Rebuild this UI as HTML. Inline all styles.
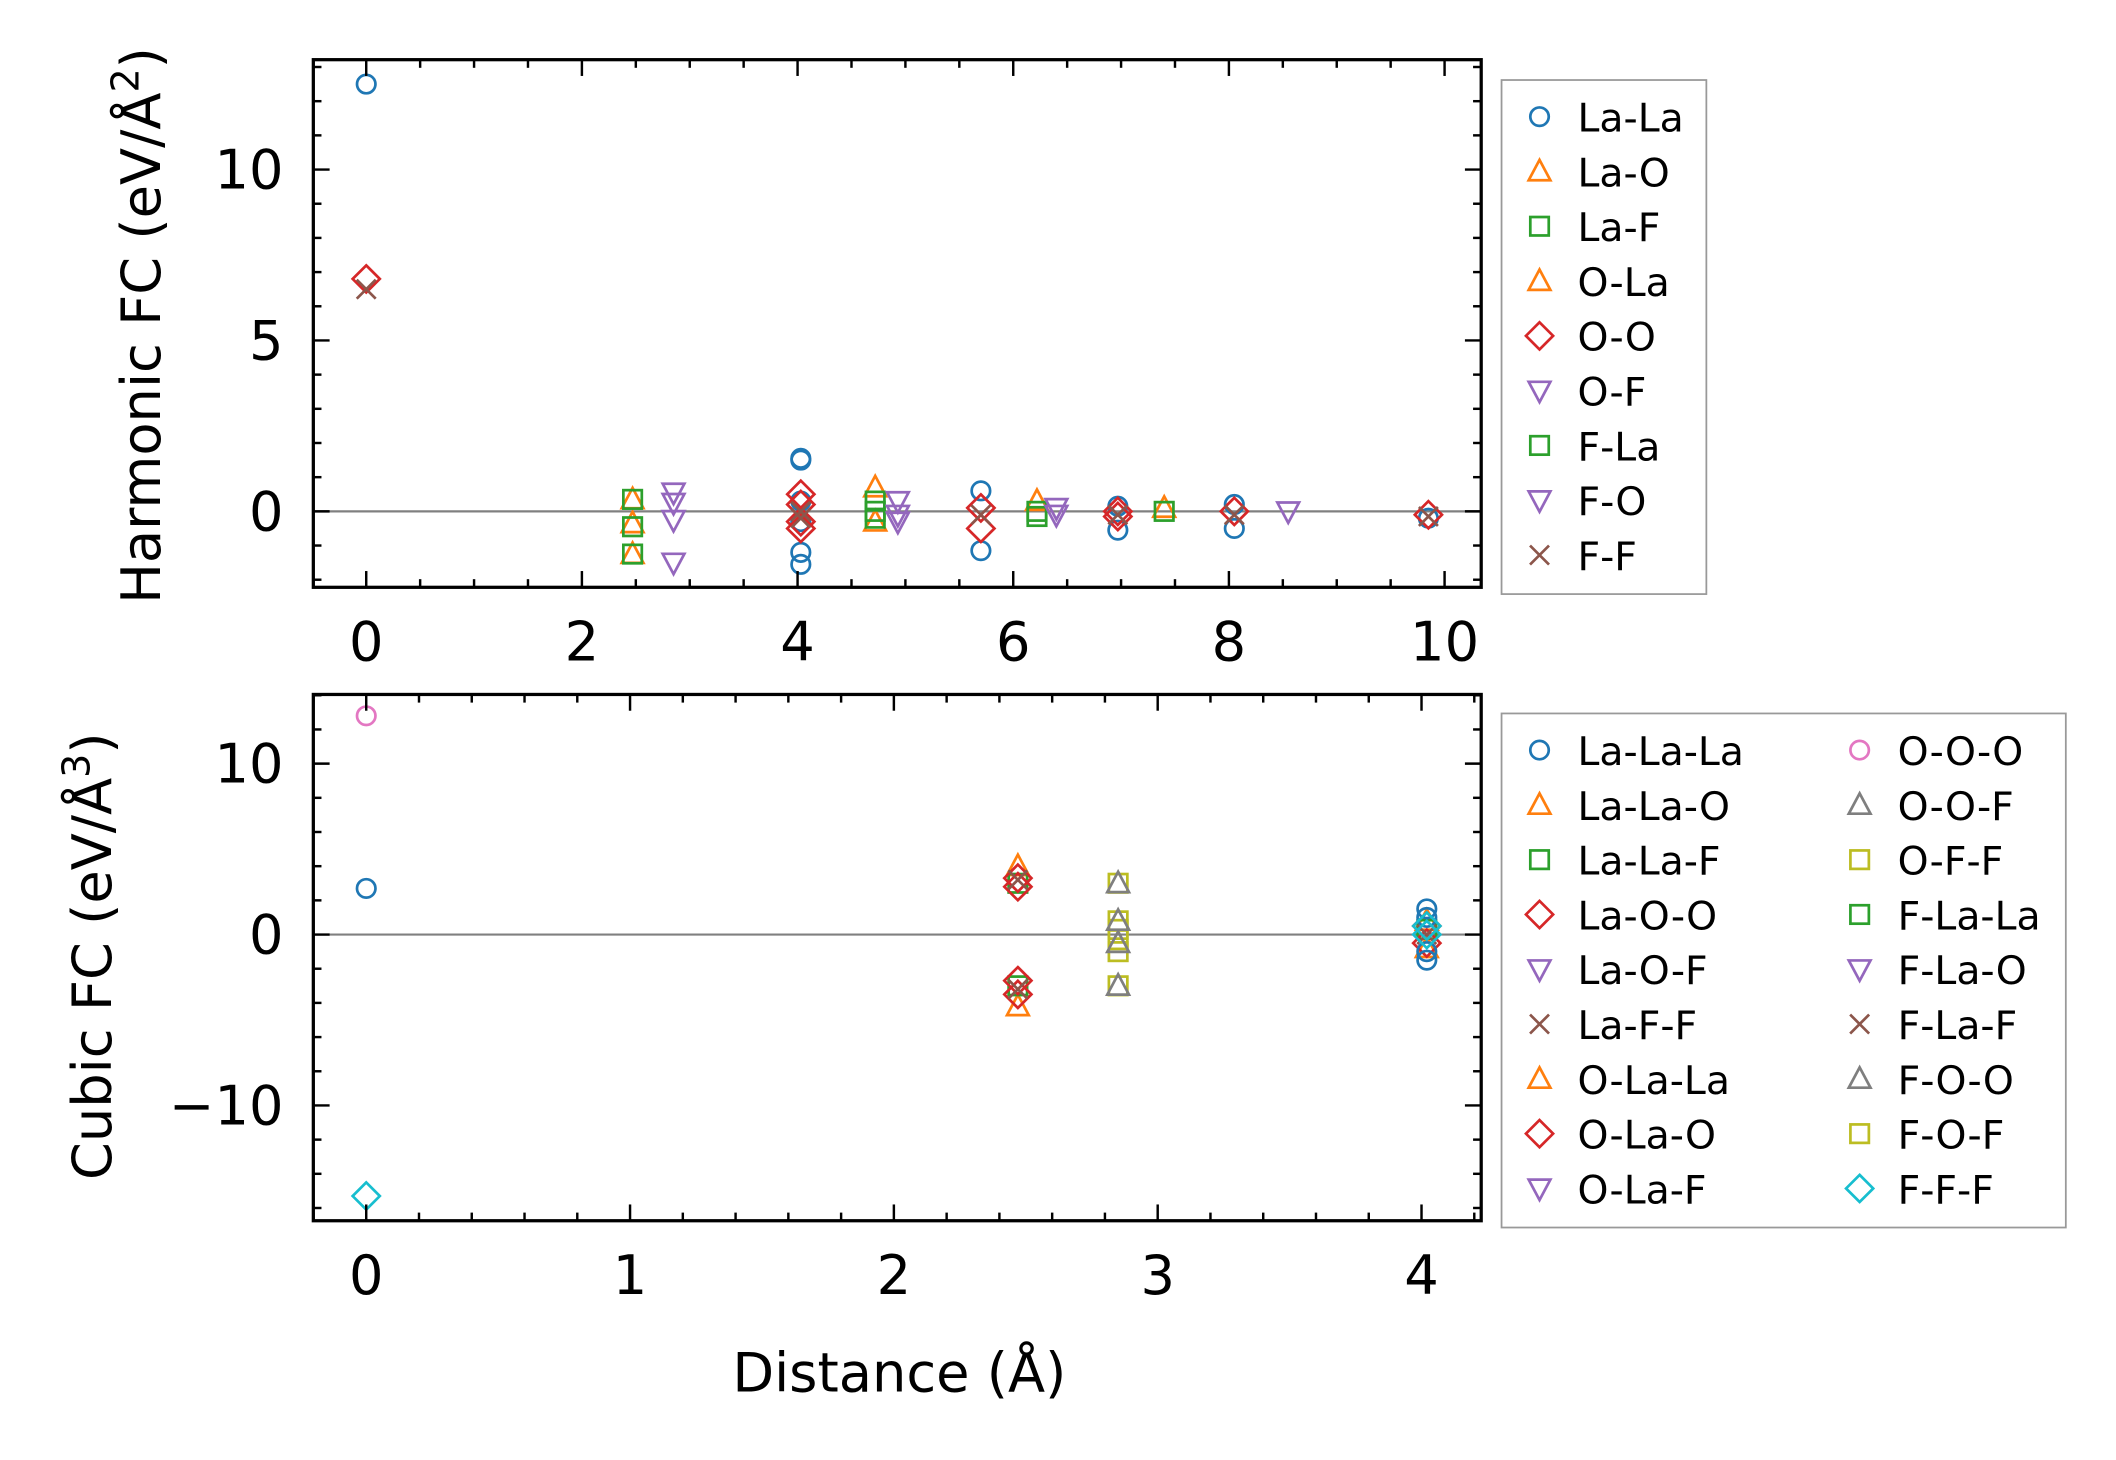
<!DOCTYPE html>
<html><head><meta charset="utf-8"><style>
html,body{margin:0;padding:0;background:#fff}
svg{display:block}
text{font-family:"DejaVu Sans","Liberation Sans",sans-serif;fill:#000}
</style></head><body>
<svg id="fig" width="2116" height="1460" viewBox="0 0 1560 1076.4" preserveAspectRatio="none" xmlns="http://www.w3.org/2000/svg"></svg>
<script>
// ---- Harmonic (top) data ----
const hLaLaX=[0,4.03,4.03,4.03,4.03,4.03,4.03,5.7,5.7,6.97,6.97,8.05,8.05,9.85];
const hLaLaY=[12.5,1.5,1.55,-1.2,-1.55,0.3,-0.3,0.6,-1.15,0.15,-0.55,0.2,-0.5,-0.2];
const hLaOX=[2.47,2.47,2.47,4.72,4.72,6.22,7.4];
const hLaOY=[0.35,-0.35,-1.25,0.7,-0.3,0.3,0.1];
const hLaFX=[2.47,2.47,2.47,4.72,4.72,4.72,6.22,6.22,7.4];
const hLaFY=[0.35,-0.45,-1.25,0.3,0,-0.2,0,-0.15,0];
const hOOX=[0,4.03,4.03,4.03,4.03,5.7,5.7,6.97,6.97,8.05,9.85];
const hOOY=[6.8,0.5,0.2,-0.3,-0.5,0.1,-0.5,0,-0.15,0,-0.1];
const hOFX=[2.85,2.85,2.85,2.85,4.93,4.93,4.93,6.4,6.4,8.55];
const hOFY=[0.55,0.25,-0.25,-1.5,0.3,-0.1,-0.3,0.1,-0.1,0];
const hFFX=[0,4.03,4.03,5.7,6.97,8.05,9.85];
const hFFY=[6.5,0,-0.2,-0.1,-0.1,-0.1,-0.15];
// ---- Cubic (bottom) data ----
const cLLLX=[0,4.02,4.02,4.02,4.02];
const cLLLY=[2.7,1.5,-1.5,1.0,-1.0];
const cOOOX=[0]; const cOOOY=[12.8];
const cFFFX=[0,4.02,4.02]; const cFFFY=[-15.3,0,0.5];
const cTriX=[2.47,2.47,4.02,4.02]; const cTriY=[4.0,-4.2,0.8,-0.8];
const cSqX=[2.47,2.47,4.02]; const cSqY=[3.0,-3.0,0.3];
const cDiaX=[2.47,2.47,2.47,2.47,4.02,4.02]; const cDiaY=[3.3,2.8,-2.7,-3.5,0.5,-0.5];
const cXX=[2.47,2.47,4.02]; const cXY=[3.2,-3.2,0];
const cOFFX=[2.85,2.85,2.85,2.85,2.85,2.85]; const cOFFY=[3.0,0.8,0.3,-0.3,-1.0,-3.0];
const cOOFX=[2.85,2.85,2.85,2.85]; const cOOFY=[3.0,-3.0,0.8,-0.5];
const hXTicks=[0,2,4,6,8,10]; const hYTicks=[0,5,10];
const cXTicks=[0,1,2,3,4]; const cYTicks=[-10,0,10];
const hLegend=["La-La","La-O","La-F","O-La","O-O","O-F","F-La","F-O","F-F"];
const cLegend1=["La-La-La","La-La-O","La-La-F","La-O-O","La-O-F","La-F-F","O-La-La","O-La-O","O-La-F"];
const cLegend2=["O-O-O","O-O-F","O-F-F","F-La-La","F-La-O","F-La-F","F-O-O","F-O-F","F-F-F"];

const C={blue:"#1f77b4",orange:"#ff7f0e",green:"#2ca02c",red:"#d62728",purple:"#9467bd",brown:"#8c564b",pink:"#e377c2",gray:"#7f7f7f",olive:"#bcbd22",cyan:"#17becf"};
const svg=document.getElementById('fig');
const NS="http://www.w3.org/2000/svg";
function mk(tag,attrs,parent){const e=document.createElementNS(NS,tag);for(const k in attrs)e.setAttribute(k,attrs[k]);(parent||svg).appendChild(e);return e;}

function marker(g,shape,cx,cy,col){
  let e;const sw=2.0;
  if(shape==='o'){e=mk('circle',{cx:cx,cy:cy,r:6.8,fill:'none',stroke:col,'stroke-width':sw},g);}
  else if(shape==='^'){e=mk('polygon',{points:`${cx},${cy-8.5} ${cx-8},${cy+6.5} ${cx+8},${cy+6.5}`,fill:'none',stroke:col,'stroke-width':sw},g);}
  else if(shape==='v'){e=mk('polygon',{points:`${cx},${cy+8.5} ${cx-8},${cy-6.5} ${cx+8},${cy-6.5}`,fill:'none',stroke:col,'stroke-width':sw},g);}
  else if(shape==='s'){e=mk('rect',{x:cx-6.8,y:cy-6.8,width:13.6,height:13.6,fill:'none',stroke:col,'stroke-width':sw},g);}
  else if(shape==='D'){e=mk('polygon',{points:`${cx},${cy-10} ${cx+10},${cy} ${cx},${cy+10} ${cx-10},${cy}`,fill:'none',stroke:col,'stroke-width':sw},g);}
  else {e=mk('path',{d:`M${cx-7},${cy-7}L${cx+7},${cy+7}M${cx-7},${cy+7}L${cx+7},${cy-7}`,stroke:col,'stroke-width':sw,fill:'none'},g);}
  return e;
}

function axes(cfg){
  const {L,R,T,B,x0,x1,y0,y1}=cfg;
  const sx=v=>L+(v-x0)/(x1-x0)*(R-L);
  const sy=v=>B-(v-y0)/(y1-y0)*(B-T);
  const g=mk('g',{});
  
  
  const zl=mk('line',{x1:L,x2:R,y1:sy(0),y2:sy(0),stroke:'#808080','stroke-width':1.6},g);
  
  
  cfg.series.forEach(s=>{
    const sg=mk('g',{},g);
    
    
    s.x.forEach((xv,i)=>{const m=marker(sg,s.shape,sx(xv),sy(s.y[i]),s.col);
      
      });
  });
  const fr=mk('rect',{x:L,y:T,width:R-L,height:B-T,fill:'none',stroke:'#000','stroke-width':2.4},g);
  
  
  const tk=mk('g',{stroke:'#000','stroke-width':1.8},g);
  
  
  const eps=1e-9;
  for(let v=Math.ceil(x0/cfg.xmin)*cfg.xmin;v<=x1+eps;v+=cfg.xmin){
    const isMaj=Math.abs(v/cfg.xmaj-Math.round(v/cfg.xmaj))<1e-6;const len=isMaj?12:6;const X=sx(v);
    mk('line',{x1:X,x2:X,y1:B,y2:B-len},tk);mk('line',{x1:X,x2:X,y1:T,y2:T+len},tk);
  }
  for(let v=Math.ceil(y0/cfg.ymin)*cfg.ymin;v<=y1+eps;v+=cfg.ymin){
    const isMaj=Math.abs(v/cfg.ymaj-Math.round(v/cfg.ymaj))<1e-6;const len=isMaj?12:6;const Y=sy(v);
    mk('line',{x1:L,x2:L+len,y1:Y,y2:Y},tk);mk('line',{x1:R,x2:R-len,y1:Y,y2:Y},tk);
  }
  cfg.xt.forEach(v=>{const t=mk('text',{x:sx(v),y:B+54,'text-anchor':'middle','font-size':40},g);t.textContent=String(v);
    
    });
  cfg.yt.forEach(v=>{const t=mk('text',{x:L-22,y:sy(v)+14,'text-anchor':'end','font-size':40},g);t.textContent=(v<0?'\u2212':'')+Math.abs(v);
    
    });
  return g;
}

axes({name:'harmonic-plot',L:231,R:1092,T:44,B:433,x0:(231-270)/79.5,x1:(1092-270)/79.5,y0:(377-433)/25.2,y1:(377-44)/25.2,
  xmaj:2,xmin:0.5,ymaj:5,ymin:1,xt:hXTicks,yt:hYTicks,series:[
  {name:'series-la-la',x:hLaLaX,y:hLaLaY,shape:'o',col:C.blue},
  {name:'series-la-o',x:hLaOX,y:hLaOY,shape:'^',col:C.orange},
  {name:'series-la-f',x:hLaFX,y:hLaFY,shape:'s',col:C.green},
  {name:'series-o-o',x:hOOX,y:hOOY,shape:'D',col:C.red},
  {name:'series-o-f',x:hOFX,y:hOFY,shape:'v',col:C.purple},
  {name:'series-f-f',x:hFFX,y:hFFY,shape:'x',col:C.brown}]});
axes({name:'cubic-plot',L:231,R:1092,T:512,B:900,x0:(231-270)/194.5,x1:(1092-270)/194.5,y0:(689-900)/12.6,y1:(689-512)/12.6,
  xmaj:1,xmin:0.2,ymaj:10,ymin:2,xt:cXTicks,yt:cYTicks,series:[
  {name:'series-o-f-f',x:cOFFX,y:cOFFY,shape:'s',col:C.olive},
  {name:'series-o-o-f',x:cOOFX,y:cOOFY,shape:'^',col:C.gray},
  {name:'series-la-la-o',x:cTriX,y:cTriY,shape:'^',col:C.orange},
  {name:'series-la-la-f',x:cSqX,y:cSqY,shape:'s',col:C.green},
  {name:'series-la-o-o',x:cDiaX,y:cDiaY,shape:'D',col:C.red},
  {name:'series-la-f-f',x:cXX,y:cXY,shape:'x',col:C.brown},
  {name:'series-la-la-la',x:cLLLX,y:cLLLY,shape:'o',col:C.blue},
  {name:'series-o-o-o',x:cOOOX,y:cOOOY,shape:'o',col:C.pink},
  {name:'series-f-f-f',x:cFFFX,y:cFFFY,shape:'D',col:C.cyan}]});

function lbl(name,x,y,rot,html){const t=mk('text',{x:x,y:y,'text-anchor':'middle','font-size':40,transform:rot?`rotate(-90 ${x} ${y})`:''});t.innerHTML=html;
  
  }
lbl('y-axis-title-harmonic',118,240,true,'Harmonic FC (eV/Å<tspan font-size="28" dy="-16">2</tspan><tspan dy="16">)</tspan>');
lbl('y-axis-title-cubic',82,705,true,'Cubic FC (eV/Å<tspan font-size="28" dy="-16">3</tspan><tspan dy="16">)</tspan>');
lbl('x-axis-title',663,1026,false,'Distance (Å)');

function legend(name,bx,by,bw,bh,cols){
  const g=mk('g',{});
  
  
  mk('rect',{x:bx,y:by,width:bw,height:bh,fill:'#fff',stroke:'#999','stroke-width':1.3},g);
  cols.forEach(c=>{c.labels.forEach((lab,i)=>{
    const y=by+27+i*40.4;
    const e=mk('g',{},g);
    
    
    marker(e,c.shapes[i],c.mx,y,c.cols[i]);
    const t=mk('text',{x:c.mx+28,y:y+11,'font-size':29},e);t.textContent=lab;
  });});
}
legend('harmonic-legend',1107,59,151,379,[{mx:1135,labels:hLegend,shapes:['o','^','s','^','D','v','s','v','x'],cols:[C.blue,C.orange,C.green,C.orange,C.red,C.purple,C.green,C.purple,C.brown]}]);
legend('cubic-legend',1107,526,416,379,[
 {mx:1135,labels:cLegend1,shapes:['o','^','s','D','v','x','^','D','v'],cols:[C.blue,C.orange,C.green,C.red,C.purple,C.brown,C.orange,C.red,C.purple]},
 {mx:1371,labels:cLegend2,shapes:['o','^','s','s','v','x','^','s','D'],cols:[C.pink,C.gray,C.olive,C.green,C.purple,C.brown,C.gray,C.olive,C.cyan]}]);
</script>
</body></html>
